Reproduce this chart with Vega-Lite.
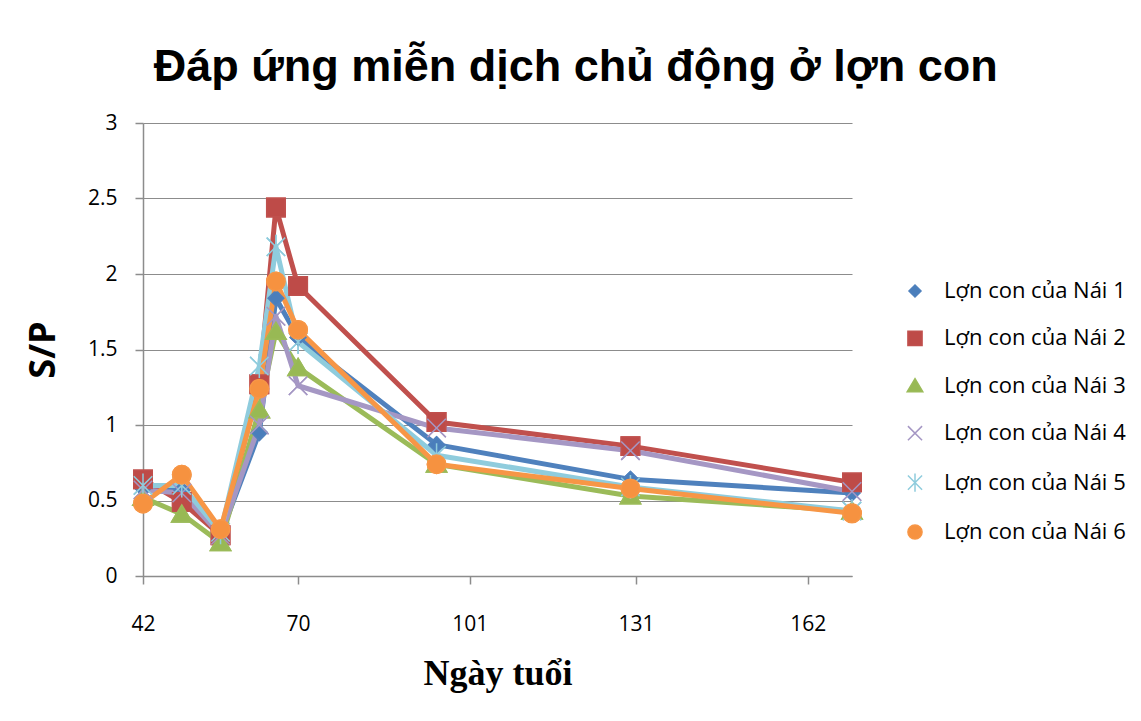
{
  "$schema": "https://vega.github.io/schema/vega-lite/v6.json",
  "width": 709,
  "height": 453,
  "autosize": {"type": "none"},
  "padding": {"left": 143, "top": 123, "right": 289, "bottom": 145},
  "background": "white",
  "title": {
    "text": "Đáp ứng miễn dịch chủ động ở lợn con",
    "font": "Liberation Sans",
    "fontSize": 45,
    "fontWeight": "bold",
    "color": "#000000",
    "frame": "bounds",
    "anchor": "middle",
    "offset": 22
  },
  "data": {
    "values": [
      {"day": 42, "series": "Lợn con của Nái 1", "sp": 0.58},
      {"day": 49, "series": "Lợn con của Nái 1", "sp": 0.57},
      {"day": 56, "series": "Lợn con của Nái 1", "sp": 0.27},
      {"day": 63, "series": "Lợn con của Nái 1", "sp": 0.95},
      {"day": 66, "series": "Lợn con của Nái 1", "sp": 1.84},
      {"day": 70, "series": "Lợn con của Nái 1", "sp": 1.58},
      {"day": 95, "series": "Lợn con của Nái 1", "sp": 0.87},
      {"day": 130, "series": "Lợn con của Nái 1", "sp": 0.64},
      {"day": 170, "series": "Lợn con của Nái 1", "sp": 0.55},

      {"day": 42, "series": "Lợn con của Nái 2", "sp": 0.64},
      {"day": 49, "series": "Lợn con của Nái 2", "sp": 0.49},
      {"day": 56, "series": "Lợn con của Nái 2", "sp": 0.27},
      {"day": 63, "series": "Lợn con của Nái 2", "sp": 1.27},
      {"day": 66, "series": "Lợn con của Nái 2", "sp": 2.44},
      {"day": 70, "series": "Lợn con của Nái 2", "sp": 1.92},
      {"day": 95, "series": "Lợn con của Nái 2", "sp": 1.02},
      {"day": 130, "series": "Lợn con của Nái 2", "sp": 0.86},
      {"day": 170, "series": "Lợn con của Nái 2", "sp": 0.62},

      {"day": 42, "series": "Lợn con của Nái 3", "sp": 0.52},
      {"day": 49, "series": "Lợn con của Nái 3", "sp": 0.41},
      {"day": 56, "series": "Lợn con của Nái 3", "sp": 0.22},
      {"day": 63, "series": "Lợn con của Nái 3", "sp": 1.1},
      {"day": 66, "series": "Lợn con của Nái 3", "sp": 1.62},
      {"day": 70, "series": "Lợn con của Nái 3", "sp": 1.38},
      {"day": 95, "series": "Lợn con của Nái 3", "sp": 0.74},
      {"day": 130, "series": "Lợn con của Nái 3", "sp": 0.53},
      {"day": 170, "series": "Lợn con của Nái 3", "sp": 0.43},

      {"day": 42, "series": "Lợn con của Nái 4", "sp": 0.57},
      {"day": 49, "series": "Lợn con của Nái 4", "sp": 0.55},
      {"day": 56, "series": "Lợn con của Nái 4", "sp": 0.27},
      {"day": 63, "series": "Lợn con của Nái 4", "sp": 1.0},
      {"day": 66, "series": "Lợn con của Nái 4", "sp": 1.72},
      {"day": 70, "series": "Lợn con của Nái 4", "sp": 1.26},
      {"day": 95, "series": "Lợn con của Nái 4", "sp": 0.98},
      {"day": 130, "series": "Lợn con của Nái 4", "sp": 0.83},
      {"day": 170, "series": "Lợn con của Nái 4", "sp": 0.56},

      {"day": 42, "series": "Lợn con của Nái 5", "sp": 0.6},
      {"day": 49, "series": "Lợn con của Nái 5", "sp": 0.6},
      {"day": 56, "series": "Lợn con của Nái 5", "sp": 0.29},
      {"day": 63, "series": "Lợn con của Nái 5", "sp": 1.39},
      {"day": 66, "series": "Lợn con của Nái 5", "sp": 2.18},
      {"day": 70, "series": "Lợn con của Nái 5", "sp": 1.55},
      {"day": 95, "series": "Lợn con của Nái 5", "sp": 0.8},
      {"day": 130, "series": "Lợn con của Nái 5", "sp": 0.59},
      {"day": 170, "series": "Lợn con của Nái 5", "sp": 0.43},

      {"day": 42, "series": "Lợn con của Nái 6", "sp": 0.48},
      {"day": 49, "series": "Lợn con của Nái 6", "sp": 0.67},
      {"day": 56, "series": "Lợn con của Nái 6", "sp": 0.31},
      {"day": 63, "series": "Lợn con của Nái 6", "sp": 1.24},
      {"day": 66, "series": "Lợn con của Nái 6", "sp": 1.95},
      {"day": 70, "series": "Lợn con của Nái 6", "sp": 1.63},
      {"day": 95, "series": "Lợn con của Nái 6", "sp": 0.74},
      {"day": 130, "series": "Lợn con của Nái 6", "sp": 0.58},
      {"day": 170, "series": "Lợn con của Nái 6", "sp": 0.415}
    ]
  },
  "encoding": {
    "x": {
      "field": "day",
      "type": "quantitative",
      "scale": {"domain": [42, 170], "nice": false, "zero": false},
      "axis": {
        "title": "Ngày tuổi",
        "values": [42, 70, 101, 131, 162],
        "grid": false,
        "domainColor": "#8c8c8c",
        "domainWidth": 1.5,
        "tickColor": "#8c8c8c",
        "tickWidth": 1.5,
        "tickSize": 8,
        "labelFont": "Open Sans",
        "labelFontSize": 21,
        "labelColor": "#000000",
        "labelPadding": 29,
        "labelFlush": false,
        "labelOverlap": false,
        "titleFont": "Liberation Serif",
        "titleFontSize": 36,
        "titleFontWeight": "bold",
        "titleColor": "#000000",
        "titlePadding": 22
      }
    },
    "y": {
      "field": "sp",
      "type": "quantitative",
      "scale": {"domain": [0, 3], "nice": false},
      "axis": {
        "title": "S/P",
        "values": [0, 0.5, 1, 1.5, 2, 2.5, 3],
        "format": "~g",
        "grid": true,
        "gridColor": "#8c8c8c",
        "gridWidth": 1.2,
        "domainColor": "#8c8c8c",
        "domainWidth": 1.5,
        "tickColor": "#8c8c8c",
        "tickWidth": 1.5,
        "tickSize": 8,
        "labelFont": "Open Sans",
        "labelFontSize": 21,
        "labelColor": "#000000",
        "labelPadding": 18,
        "titleFont": "Open Sans",
        "titleFontSize": 36,
        "titleFontWeight": "bold",
        "titleColor": "#000000",
        "titlePadding": 25
      }
    },
    "stroke": {
      "field": "series",
      "type": "nominal",
      "scale": {
        "domain": ["Lợn con của Nái 1", "Lợn con của Nái 2", "Lợn con của Nái 3", "Lợn con của Nái 4", "Lợn con của Nái 5", "Lợn con của Nái 6"],
        "range": ["#4F81BD", "#C0504D", "#9BBB59", "#A597C4", "#8FCCDD", "#F79646"]
      }
    },
    "shape": {
      "field": "series",
      "type": "nominal",
      "scale": {
        "domain": ["Lợn con của Nái 1", "Lợn con của Nái 2", "Lợn con của Nái 3", "Lợn con của Nái 4", "Lợn con của Nái 5", "Lợn con của Nái 6"],
        "range": [
          "M0,-0.85L0.85,0L0,0.85L-0.85,0Z",
          "M-1,-1L1,-1L1,1L-1,1Z",
          "M0,-1L1.1,0.85L-1.1,0.85Z",
          "M-1,-1L1,1M-1,1L1,-1",
          "M-1,-1L1,1M-1,1L1,-1M0,-1.3L0,1.3",
          "M1,0A1,1,0,1,1,-1,0A1,1,0,1,1,1,0Z"
        ]
      }
    }
  },
  "layer": [
    {
      "mark": {"type": "point", "filled": true, "size": 340, "strokeWidth": 1.5, "opacity": 1},
      "encoding": {
        "color": {
          "field": "series",
          "type": "nominal",
          "scale": {
            "domain": ["Lợn con của Nái 1", "Lợn con của Nái 2", "Lợn con của Nái 3", "Lợn con của Nái 4", "Lợn con của Nái 5", "Lợn con của Nái 6"],
            "range": ["#4A7EBB", "#BE4B48", "#98B954", "#7D60A0", "#46AAC5", "#F69240"]
          },
          "legend": {
            "title": null,
            "orient": "none",
            "legendX": 741,
            "legendY": 157,
            "padding": 0,
            "labelFont": "Open Sans",
            "labelFontSize": 22,
            "labelColor": "#000000",
            "labelLimit": 400,
            "symbolSize": 200,
            "symbolOffset": 20,
            "labelOffset": 18,
            "rowPadding": 25.4,
            "encode": {
              "symbols": {
                "shape": {"value": {"expr": "['M-4.2,0L4.2,0M0,-1.1L1.1,0L0,1.1L-1.1,0Z','M-4.2,0L4.2,0M-1,-1L1,-1L1,1L-1,1Z','M-4.2,0L4.2,0M0,-1.1L1.1,0.8L-1.1,0.8Z','M-4.2,0L4.2,0M-1.1,-1.1L1.1,1.1M-1.1,1.1L1.1,-1.1','M-4.2,0L4.2,0M-1.1,-1.1L1.1,1.1M-1.1,1.1L1.1,-1.1M0,-1.3L0,1.3','M-4.2,0L4.2,0M1.1,0A1.1,1.1,0,1,1,-1.1,0A1.1,1.1,0,1,1,1.1,0Z'][indexof(['Lợn con của Nái 1','Lợn con của Nái 2','Lợn con của Nái 3','Lợn con của Nái 4','Lợn con của Nái 5','Lợn con của Nái 6'], datum.value)]"}},
                "fill": {"value": {"expr": "['#4F81BD','#C0504D','#9BBB59','transparent','transparent','#F79646'][indexof(['Lợn con của Nái 1','Lợn con của Nái 2','Lợn con của Nái 3','Lợn con của Nái 4','Lợn con của Nái 5','Lợn con của Nái 6'], datum.value)]"}},
                "stroke": {"value": {"expr": "['#4A7EBB','#BE4B48','#98B954','#7D60A0','#46AAC5','#F69240'][indexof(['Lợn con của Nái 1','Lợn con của Nái 2','Lợn con của Nái 3','Lợn con của Nái 4','Lợn con của Nái 5','Lợn con của Nái 6'], datum.value)]"}},
                "strokeWidth": {"value": 4},
                "size": {"value": 150},
                "opacity": {"value": 1}
              }
            }
          }
        }
      }
    },
    {
      "mark": {"type": "line", "strokeWidth": 5, "strokeJoin": "round", "strokeCap": "round"},
      "encoding": {
        "color": {"field": "series", "type": "nominal"},
        "stroke": {"field": "series", "type": "nominal", "scale": {"range": ["#4A7EBB", "#BE4B48", "#98B954", "#7D60A0", "#46AAC5", "#F69240"]}},
        "shape": null
      }
    },
    {
      "mark": {"type": "point", "filled": true, "size": 340, "strokeWidth": 1.5, "opacity": 1},
      "encoding": {
        "color": {"field": "series", "type": "nominal"}
      }
    }
  ],
  "config": {
    "view": {"stroke": null}
  }
}
